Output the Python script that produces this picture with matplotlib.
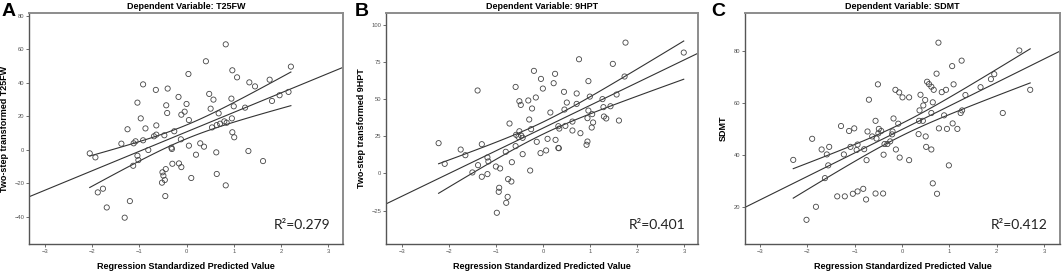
import numpy as np
import matplotlib
matplotlib.use("Agg")
import matplotlib.pyplot as plt

# ---------------- data ----------------
a_x = [-2.05, -1.93, -1.88, -1.77, -1.69, -1.38, -1.25, -1.20, -1.31, -1.13, -1.12, -1.08, -1.04, -1.02,
       -1.04, -0.97, -0.92, -0.92, -0.87, -0.81, -0.69, -0.64, -0.65, -0.64, -0.47, -0.43, -0.41, -0.40,
       -0.44, -0.46, -0.49, -0.51, -0.52, -0.45, -0.32, -0.31, -0.30, -0.26, -0.17, -0.16, -0.11, -0.12,
       -0.11, -0.04, 0.00, 0.04, 0.05, 0.05, 0.10, 0.20, 0.29, 0.37, 0.41, 0.48, 0.51, 0.57, 0.54, 0.63,
       0.64, 0.64, 0.68, 0.71, 0.80, 0.85, 0.83, 0.83, 0.95, 0.97, 0.96, 0.97, 1.01, 1.00, 1.07, 1.24,
       1.31, 1.33, 1.45, 1.62, 1.76, 1.81, 1.97, 2.16, 2.21]
a_y = [-2.2, -4.6, -25.5, -23.3, -34.5, 3.6, 12.2, -30.7, -40.6, -9.6, 3.8, 5.0, -3.6, -6.2,
       28.1, 18.7, 39.0, 5.6, 12.7, -0.2, 8.0, 9.0, 35.7, 14.5, 8.6, 26.5, 21.9, 36.5,
       -11.6, -18.1, -15.5, -13.5, -19.7, -27.7, 1.2, 0.4, -8.4, 11.0, 31.5, -8.2, -10.4, 6.2,
       20.9, 22.7, 27.3, 45.2, 17.7, 2.4, -16.9, -3.0, 3.8, 1.8, 52.8, 33.3, 24.5, 29.9, 13.3, -1.6,
       -14.5, 14.7, 21.7, 15.5, 16.9, 16.1, 62.9, -21.3, 30.5, 47.4, 18.7, 10.4, 7.4, 25.9, 43.2, 25.1,
       -0.8, 40.2, 37.8, -6.8, 41.8, 29.1, 32.5, 34.5, 49.6]

b_x = [-2.23, -2.10, -1.76, -1.66, -1.40, -1.39, -1.31, -1.31, -1.51, -1.19, -1.17, -1.19, -1.01, -0.92,
       -0.94, -0.95, -0.99, -0.80, -0.76, -0.79, -0.75, -0.68, -0.72, -0.67, -0.59, -0.59, -0.58, -0.53,
       -0.51, -0.51, -0.48, -0.47, -0.44, -0.44, -0.32, -0.30, -0.28, -0.26, -0.24, -0.20, -0.16, -0.14,
       -0.06, -0.05, -0.01, 0.06, 0.09, 0.15, 0.22, 0.25, 0.26, 0.32, 0.32, 0.33, 0.34, 0.44, 0.45, 0.47,
       0.50, 0.62, 0.62, 0.71, 0.71, 0.76, 0.79, 0.92, 0.94, 0.94, 0.96, 0.96, 0.99, 1.03, 1.04, 1.06,
       1.26, 1.28, 1.29, 1.34, 1.43, 1.48, 1.56, 1.61, 1.73, 1.75, 2.99]
b_y = [20.4, 6.5, 16.1, 12.3, 55.8, 5.6, 19.7, -2.2, 0.7, 10.8, 8.1, -0.4, 4.7, 3.4,
       -9.6, -12.3, -26.4, 14.6, -15.7, -19.7, -3.8, -5.4, 33.6, 7.6, 58.2, 18.4, 26.0, 24.6,
       28.4, 48.6, 46.1, 25.5, 24.0, 13.0, 49.1, 36.3, 2.0, 29.8, 43.7, 69.0, 51.1, 21.3,
       13.7, 63.6, 57.1, 15.5, 23.3, 41.0, 60.7, 67.0, 22.6, 31.8, 17.2, 17.0, 30.2, 54.9, 43.0, 32.0,
       47.7, 34.9, 28.9, 53.8, 46.8, 76.8, 27.1, 19.3, 21.5, 37.2, 62.1, 42.3, 51.7, 30.9, 39.9, 34.3,
       50.0, 44.6, 38.3, 37.0, 45.2, 73.7, 53.1, 35.6, 65.2, 88.0, 81.3]

c_x = [-2.30, -2.02, -1.90, -1.82, -1.70, -1.63, -1.59, -1.56, -1.54, -1.37, -1.29, -1.23, -1.21, -1.12,
       -1.09, -1.04, -1.01, -0.96, -0.94, -0.94, -0.82, -0.80, -0.76, -0.75, -0.73, -0.70, -0.63, -0.56,
       -0.54, -0.56, -0.51, -0.50, -0.49, -0.44, -0.39, -0.40, -0.37, -0.31, -0.25, -0.21, -0.20, -0.18,
       -0.14, -0.13, -0.08, -0.06, -0.05, 0.01, 0.15, 0.15, 0.35, 0.37, 0.36, 0.39, 0.44, 0.45, 0.49, 0.50,
       0.51, 0.53, 0.57, 0.62, 0.62, 0.62, 0.65, 0.67, 0.65, 0.73, 0.74, 0.77, 0.78, 0.84, 0.89, 0.93,
       0.95, 0.99, 1.06, 1.07, 1.09, 1.17, 1.24, 1.26, 1.27, 1.34, 1.66, 1.88, 1.95, 2.13, 2.48, 2.71]
c_y = [38.1, 15.1, 46.2, 20.1, 42.1, 31.1, 40.2, 36.0, 43.1, 24.1, 51.1, 40.2, 24.1, 49.2,
       43.1, 25.1, 50.2, 41.9, 44.0, 26.0, 27.0, 42.2, 22.9, 38.0, 49.0, 61.2, 47.1, 53.1,
       46.3, 25.2, 67.1, 48.3, 50.0, 49.2, 40.1, 25.2, 44.2, 44.2, 45.2, 47.9, 49.0, 54.0,
       65.0, 42.1, 52.0, 64.0, 39.0, 62.1, 38.0, 62.1, 48.0, 57.1, 53.1, 63.1, 53.1, 59.0, 61.1, 47.1,
       43.1, 68.1, 67.2, 56.1, 66.2, 42.1, 60.2, 65.0, 29.1, 71.2, 25.1, 83.1, 50.2, 64.1, 55.2, 65.0,
       50.0, 36.0, 74.1, 52.1, 67.1, 50.0, 56.1, 76.2, 57.1, 63.0, 66.0, 69.1, 71.0, 56.1, 80.1, 65.0]

letters = ["A", "B", "C"]
titles = ["Dependent Variable: T25FW", "Dependent Variable: 9HPT", "Dependent Variable: SDMT"]
ylabels = ["Two-step transformed T25FW", "Two-step transformed 9HPT", "SDMT"]
r2_labels = ["0.279", "0.401", "0.412"]
xticks = [-3, -2, -1, 0, 1, 2, 3]
yticks_list = [[-40, -20, 0, 20, 40, 60, 80],
               [-25, 0, 25, 50, 75, 100],
               [20, 40, 60, 80]]

# ---------------- layout ----------------
W, H = 1064, 274
fig = plt.figure(figsize=(W / 100, H / 100), dpi=100)
plt.rcParams['font.family'] = ['Liberation Sans', 'DejaVu Sans']

boxes = [(29.3, 343.3), (386.0, 698.3), (745.0, 1060.0)]
letter_x = [2, 355, 711]
ytop, ybot = 12.7, 244.3
xlims = [(-3.33, 3.32), (-3.35, 3.30), (-3.32, 3.34)]
ylims = [(-56.5, 81.8), (-47.6, 108.1), (5.7, 94.6)]

datasets = [(a_x, a_y), (b_x, b_y), (c_x, c_y)]
T_CRIT = 1.99

for i, ((x0, x1), (xs, ys)) in enumerate(zip(boxes, datasets)):
    ax = fig.add_axes([x0 / W, (H - ybot) / H, (x1 - x0) / W, (ybot - ytop) / H])
    xs = np.asarray(xs, float)
    ys = np.asarray(ys, float)
    ax.set_xlim(*xlims[i])
    ax.set_ylim(*ylims[i])

    # fit
    b, a = np.polyfit(xs, ys, 1)
    n = len(xs)
    resid = ys - (a + b * xs)
    s = np.sqrt(np.sum(resid ** 2) / (n - 2))
    xm = xs.mean()
    sxx = np.sum((xs - xm) ** 2)
    xl = np.linspace(*xlims[i], 50)
    ax.plot(xl, a + b * xl, color="#333333", lw=0.8, zorder=2)
    xc = np.linspace(xs.min(), xs.max(), 100)
    half = T_CRIT * s * np.sqrt(1.0 / n + (xc - xm) ** 2 / sxx)
    ax.plot(xc, a + b * xc + half, color="#333333", lw=0.8, zorder=2)
    ax.plot(xc, a + b * xc - half, color="#333333", lw=0.8, zorder=2)

    ax.scatter(xs, ys, s=14, facecolors="none", edgecolors="#444444", linewidths=0.6, zorder=3)

    ax.set_xticks(xticks)
    ax.set_yticks(yticks_list[i])
    ax.tick_params(axis="both", labelsize=4.2, length=2, width=0.6, pad=1.5,
                   colors="#555555", labelcolor="#555555")
    for side in ["top", "right"]:
        ax.spines[side].set_color("#8c8c8c")
        ax.spines[side].set_linewidth(1.4)
    for side in ["left", "bottom"]:
        ax.spines[side].set_color("#555555")
        ax.spines[side].set_linewidth(1.0)

    ax.set_title(titles[i], fontsize=6.5, fontweight="bold", pad=2.5)
    ax.set_ylabel(ylabels[i], fontsize=6.5, fontweight="bold", labelpad=4)
    ax.set_xlabel("Regression Standardized Predicted Value", fontsize=6.5, fontweight="bold", labelpad=6)
    ax.text(0.96, 0.085, "R\u00b2=" + r2_labels[i], transform=ax.transAxes, ha="right", va="center",
            fontsize=10, family="Lato", color="#222222")

    fig.text(letter_x[i] / W, (H - 11) / H, letters[i], fontsize=14, fontweight="bold",
             ha="left", va="center")

fig.savefig("out.png", dpi=100)
